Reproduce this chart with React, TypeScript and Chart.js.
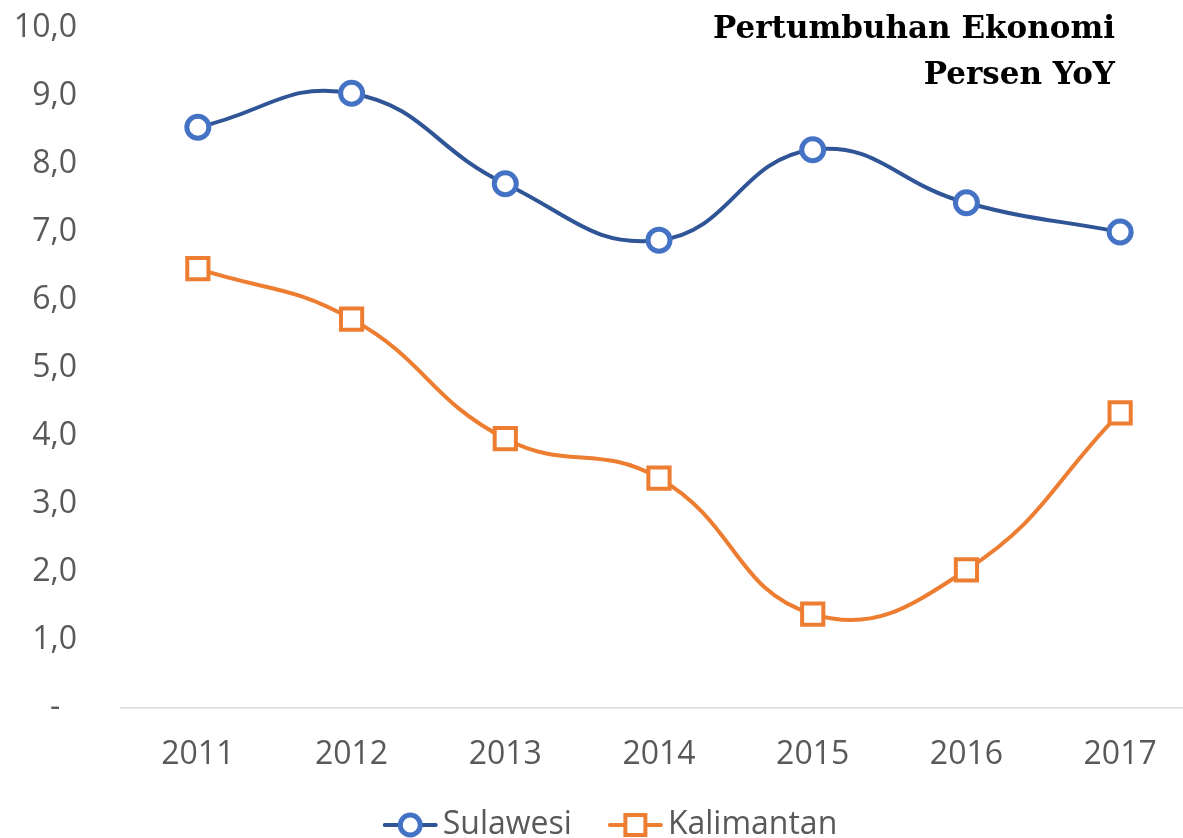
import React, { useEffect, useRef } from 'react';
import { Chart, registerables } from 'chart.js';

Chart.register(...registerables);

const years = ['2011', '2012', '2013', '2014', '2015', '2016', '2017'];
const sulawesi = [8.54, 9.04, 7.71, 6.88, 8.21, 7.43, 7.0];
const kalimantan = [6.46, 5.72, 3.96, 3.38, 1.38, 2.03, 4.34];
const titleLines = ['Pertumbuhan Ekonomi', 'Persen YoY'];

const FONT = '"Open Sans", "Noto Sans", sans-serif';
const GREY = '#595959';

const legendPlugin = {
  id: 'customLegend',
  afterDraw(chart: any) {
    const ctx = chart.ctx;
    const items = chart.data.datasets.map((d: any) => ({
      label: d.label,
      line: d.borderColor,
      marker: d.pointBorderColor,
      style: d.pointStyle,
    }));
    ctx.save();
    ctx.font = `32px ${FONT}`;
    const symW = 55;
    const gapText = 5;
    const gapItem = 36;
    const widths = items.map((it: any) => symW + gapText + ctx.measureText(it.label).width);
    const total = widths.reduce((a: number, b: number) => a + b, 0) + gapItem * (items.length - 1);
    let x = chart.width / 2 - total / 2;
    const y = 825;
    items.forEach((it: any, i: number) => {
      ctx.strokeStyle = it.line;
      ctx.lineWidth = 4;
      ctx.lineCap = 'round';
      ctx.beginPath();
      ctx.moveTo(x + 2, y);
      ctx.lineTo(x + symW - 2, y);
      ctx.stroke();
      const cx = x + symW / 2;
      ctx.fillStyle = '#ffffff';
      ctx.strokeStyle = it.marker;
      if (it.style === 'circle') {
        ctx.lineWidth = 5;
        ctx.beginPath();
        ctx.arc(cx, y, 10, 0, Math.PI * 2);
        ctx.fill();
        ctx.stroke();
      } else {
        ctx.lineWidth = 4;
        ctx.beginPath();
        ctx.rect(cx - 10, y - 10, 20, 20);
        ctx.fill();
        ctx.stroke();
      }
      ctx.fillStyle = GREY;
      ctx.textAlign = 'left';
      ctx.textBaseline = 'middle';
      ctx.fillText(it.label, x + symW + gapText, y);
      x += widths[i] + gapItem;
    });
    ctx.restore();
  },
};

const titlePlugin = {
  id: 'cornerTitle',
  afterDraw(chart: any) {
    const ctx = chart.ctx;
    ctx.save();
    ctx.font = `bold 31px "DejaVu Serif", serif`;
    ctx.fillStyle = '#000000';
    ctx.textAlign = 'right';
    ctx.textBaseline = 'alphabetic';
    titleLines.forEach((t, i) => ctx.fillText(t, 1115, 38 + i * 46));
    ctx.restore();
  },
};

export default function App() {
  const ref = useRef<HTMLCanvasElement>(null);
  useEffect(() => {
    if (!ref.current) return;
    const chart = new Chart(ref.current, {
      type: 'line',
      data: {
        labels: years,
        datasets: [
          {
            label: 'Sulawesi',
            data: sulawesi,
            borderColor: '#2F5597',
            borderWidth: 4,
            pointStyle: 'circle',
            pointRadius: 11,
            pointBorderWidth: 5,
            pointBorderColor: '#4472C4',
            pointBackgroundColor: '#ffffff',
            tension: 0.45,
            clip: false as any,
          },
          {
            label: 'Kalimantan',
            data: kalimantan,
            borderColor: '#ED7D31',
            borderWidth: 4,
            pointStyle: 'rect',
            pointRadius: 15,
            pointBorderWidth: 4,
            pointBorderColor: '#ED7D31',
            pointBackgroundColor: '#ffffff',
            tension: 0.45,
            clip: false as any,
          },
        ],
      },
      plugins: [legendPlugin, titlePlugin],
      options: {
        responsive: false,
        animation: false,
        layout: { padding: { top: 28, right: 23, left: 0, bottom: 0 } },
        plugins: {
          legend: { display: false },
          title: { display: false },
          tooltip: { enabled: false },
        },
        scales: {
          x: {
            offset: true,
            grid: { display: false, drawTicks: false },
            border: { display: true, color: '#D9D9D9', width: 1.5 },
            ticks: { color: GREY, font: { family: FONT, size: 32 }, padding: 28, maxRotation: 0 },
            afterFit: (s: any) => {
              s.height = 130;
              s.paddingLeft = 0;
              s.paddingRight = 0;
            },
          },
          y: {
            min: 0,
            max: 10,
            grid: { display: false, drawTicks: false },
            border: { display: false },
            ticks: {
              stepSize: 1,
              color: GREY,
              font: { family: FONT, size: 32 },
              padding: 44,
              callback: (v: any) => (Number(v) === 0 ? '-  ' : Number(v).toFixed(1).replace('.', ',')),
            },
            afterFit: (s: any) => {
              s.width = 121;
              s.paddingTop = 0;
              s.paddingBottom = 0;
            },
          },
        },
      },
    });
    return () => chart.destroy();
  }, []);
  return (
    <div style={{ position: 'fixed', left: 0, top: 0, width: 1183, height: 838, overflow: 'hidden', background: '#fff' }}>
      <canvas ref={ref} width={1220} height={838} style={{ display: 'block', width: 1220, height: 838 }} />
    </div>
  );
}
